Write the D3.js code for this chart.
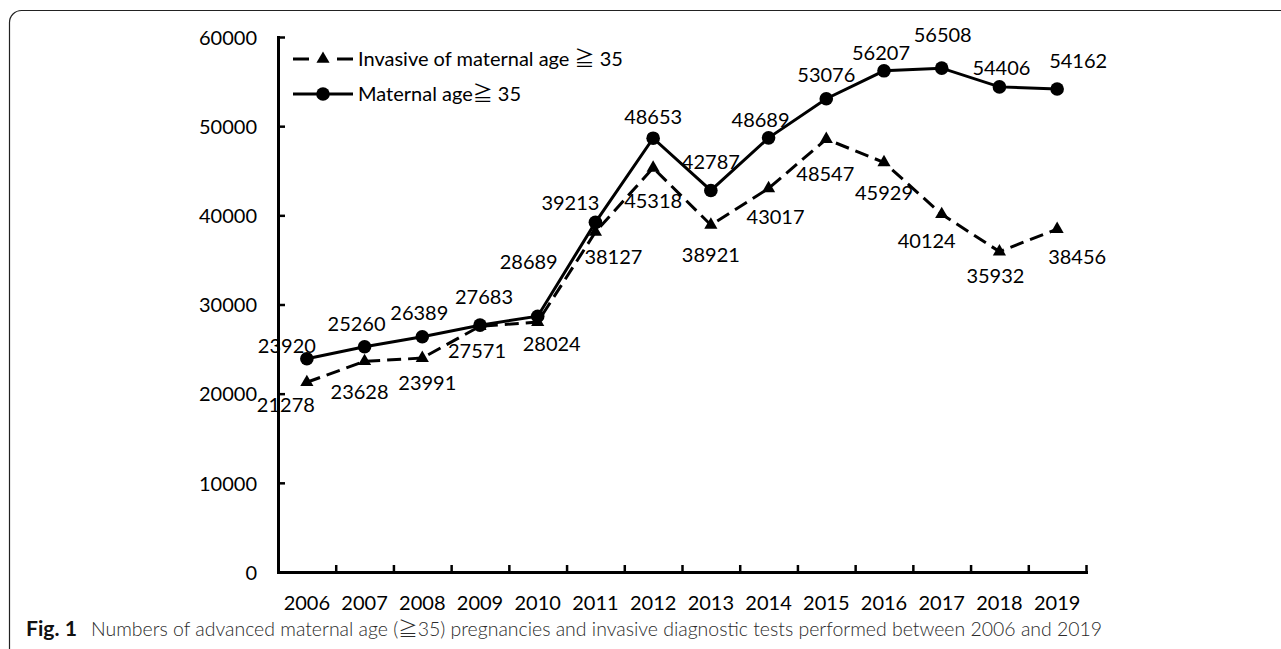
<!DOCTYPE html>
<html>
<head>
<meta charset="utf-8">
<script src="https://cdn.jsdelivr.net/npm/d3@7"></script>
<style>
  html, body { margin: 0; padding: 0; background: #fff; }
  svg { display: block; }
</style>
</head>
<body>
<svg id="chart" width="1281" height="649"></svg>
<script>
// ---------- data ----------
const years = ['2006','2007','2008','2009','2010','2011','2012','2013','2014','2015','2016','2017','2018','2019'];
const maternal = [23920, 25260, 26389, 27683, 28689, 39213, 48653, 42787, 48689, 53076, 56207, 56508, 54406, 54162];
const invasive = [21278, 23628, 23991, 27571, 28024, 38127, 45318, 38921, 43017, 48547, 45929, 40124, 35932, 38456];
const yTicks = [0, 10000, 20000, 30000, 40000, 50000, 60000];
const seriesNames = ['Invasive of maternal age \u2267 35', 'Maternal age\u2267 35'];
const captionBold = 'Fig. 1';
const captionText = 'Numbers of advanced maternal age (\u226735) pregnancies and invasive diagnostic tests performed between 2006 and 2019';

// ---------- layout (label placement offsets, px) ----------
const maternalLabelOffsets = [[-20,-13],[-8,-23],[-3,-24],[4,-28],[-9,-54],[-25,-20],[0,-21],[0,-29],[-8,-18],[0,-24],[-3,-18],[1,-33],[2,-19],[21,-28]];
const invasiveLabelOffsets = [[-21,23],[-5,30],[5,25],[-3,25],[14,22],[18,25],[0,33],[0,30],[7,28],[-1,35],[0,30],[-15,27],[-4,24],[20,28]];

const FONT = "Lato, 'Noto Sans CJK JP', sans-serif";
const svg = d3.select('#chart');
svg.append('rect').attr('width', 1281).attr('height', 649).attr('fill', '#fff');

// frame (top + left border with rounded corner)
svg.append('path')
  .attr('d', 'M9.5,649 V22.5 A12,12 0 0 1 21.5,10.5 H1281')
  .attr('fill', 'none').attr('stroke', '#222').attr('stroke-width', 1.2);

const x0 = 278, x1 = 1086, yTop = 37, yBot = 572;
const x = d3.scaleBand().domain(years).range([x0, x1]).padding(0);
const xb = d3.scaleLinear().domain([0, years.length]).range([x0, x1]);
const y = d3.scaleLinear().domain([0, 60000]).range([yBot, yTop]);
const cx = i => x(years[i]) + x.bandwidth() / 2;

// y axis
const yAxis = svg.append('g').attr('transform', `translate(${x0},0)`)
  .call(d3.axisLeft(y).tickValues(yTicks).tickSizeInner(-7).tickSizeOuter(0).tickPadding(21).tickFormat(d3.format('d')));
yAxis.select('.domain').attr('stroke', '#000').attr('stroke-width', 3).attr('stroke-linecap', 'square');
yAxis.selectAll('.tick line').attr('stroke', '#000').attr('stroke-width', 2.5);
yAxis.selectAll('text').attr('font-family', FONT).attr('font-size', 20).attr('fill', '#000').attr('dy', '0.36em');

// x axis ticks at category boundaries
const xTicksG = svg.append('g').attr('transform', `translate(0,${yBot})`)
  .call(d3.axisBottom(xb).tickValues(d3.range(1, years.length + 1)).tickSizeInner(-7).tickSizeOuter(0).tickFormat(''));
xTicksG.select('.domain').attr('stroke', '#000').attr('stroke-width', 3).attr('stroke-linecap', 'square');
xTicksG.selectAll('.tick line').attr('stroke', '#000').attr('stroke-width', 2.5);

// x axis labels at category centres
const xLab = svg.append('g').attr('transform', `translate(0,${yBot})`)
  .call(d3.axisBottom(x).tickSize(0).tickPadding(24));
xLab.select('.domain').remove();
xLab.selectAll('text').attr('font-family', FONT).attr('font-size', 20).attr('fill', '#000');

// lines
const line = d3.line().x((d, i) => cx(i)).y(d => y(d));
svg.append('path').datum(invasive).attr('d', line)
  .attr('fill', 'none').attr('stroke', '#000').attr('stroke-width', 3).attr('stroke-dasharray', '14,7');
svg.append('path').datum(maternal).attr('d', line)
  .attr('fill', 'none').attr('stroke', '#000').attr('stroke-width', 3);

// markers
const tri = d3.symbol().type(d3.symbolTriangle).size(75);
svg.append('g').selectAll('path').data(invasive).join('path')
  .attr('d', tri).attr('transform', (d, i) => `translate(${cx(i)},${y(d)})`).attr('fill', '#000');
svg.append('g').selectAll('circle').data(maternal).join('circle')
  .attr('cx', (d, i) => cx(i)).attr('cy', d => y(d)).attr('r', 6.8).attr('fill', '#000');

// data labels
function labels(data, offs) {
  svg.append('g').selectAll('text').data(data).join('text')
    .attr('x', (d, i) => cx(i) + offs[i][0])
    .attr('y', (d, i) => y(d) + offs[i][1])
    .attr('dy', '0.36em')
    .attr('text-anchor', 'middle')
    .attr('font-family', FONT).attr('font-size', 20).attr('fill', '#000')
    .text(d => d);
}
labels(maternal, maternalLabelOffsets);
labels(invasive, invasiveLabelOffsets);

// legend
const leg = svg.append('g');
const legRows = [59, 94];
leg.append('line').attr('x1', 293).attr('x2', 353).attr('y1', legRows[0]).attr('y2', legRows[0])
  .attr('stroke', '#000').attr('stroke-width', 3).attr('stroke-dasharray', '16,28,16');
leg.append('path').attr('d', tri).attr('transform', `translate(323,${legRows[0]})`).attr('fill', '#000');
leg.append('line').attr('x1', 293).attr('x2', 353).attr('y1', legRows[1]).attr('y2', legRows[1])
  .attr('stroke', '#000').attr('stroke-width', 3);
leg.append('circle').attr('cx', 323).attr('cy', legRows[1]).attr('r', 6.8).attr('fill', '#000');
leg.selectAll('text').data(seriesNames).join('text')
  .attr('x', 358).attr('y', (d, i) => legRows[i]).attr('dy', '0.36em')
  .attr('font-family', FONT).attr('font-size', 20).attr('fill', '#000')
  .text(d => d);

// caption
const CAPFONT = "Lato, 'Noto Sans CJK JP', sans-serif";
const capB = svg.append('text').attr('x', 26).attr('y', 636)
  .attr('font-family', CAPFONT).attr('font-weight', 'bold').attr('font-size', 18).attr('fill', '#111')
  .text(captionBold);
const wb = capB.node().getComputedTextLength();
capB.attr('font-size', 18 * (77 - 26) / wb);
const cap = svg.append('text').attr('x', 91).attr('y', 636)
  .attr('font-family', CAPFONT).attr('font-weight', 300).attr('font-size', 17).attr('fill', '#2a2a2a')
  .text(captionText);
const targetW = 1103 - 91;
const w = cap.node().getComputedTextLength();
cap.attr('font-size', 17 * targetW / w);
</script>
</body>
</html>
